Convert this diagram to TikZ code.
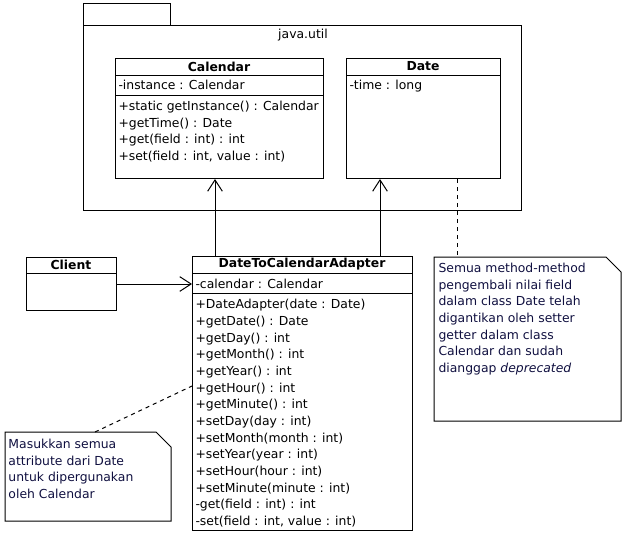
\documentclass[tikz,border=0pt]{standalone}
\usepackage{fontspec}
\setmainfont{DejaVu Sans}
\usetikzlibrary{arrows.meta}
\definecolor{notetext}{RGB}{16,16,64}
\tikzset{every picture/.style={line width=0.75pt}}

\begin{document}
\begin{tikzpicture}[x=0.75pt,y=0.75pt,yscale=-1,xscale=1,
    font=\fontsize{9.3}{12.5}\selectfont,
    classbox/.style={draw, anchor=north west, inner sep=0pt},
    classname/.style={font=\fontsize{9.3}{12.5}\selectfont\bfseries, inner sep=0pt},
    members/.style={anchor=north west, align=left, inner sep=0pt},
    notebox/.style={anchor=north west, inner sep=0pt},
    assoc/.style={-{Straight Barb[length=8.5pt,width=11pt]}},
    notelink/.style={dash pattern=on 3pt off 3pt}]
    \useasboundingbox (0,0) rectangle (628,539);

    %Package java.util
    \node [classbox, minimum width=65.25pt, minimum height=16.5pt] (utilTab) at (83,3) {};
    \node [classbox, minimum width=328.5pt, minimum height=138.75pt] (util) at (83,25) {};
    \node [inner sep=0pt] (utilName) at (303,35) {java.util};

    %Class Calendar
    \node [classbox, minimum width=156pt, minimum height=90pt] (calendar) at (115,58) {};
    \draw (calendar.north west) ++(0,17) -- ++(208,0);
    \draw (calendar.north west) ++(0,37) -- ++(208,0);
    \node [classname] (calendarName) at (219,66.5) {Calendar};
    \node [members] (calendarAttr) at (118,79.5) {-instance : Calendar};
    \node [members] (calendarOps) at (118,100.5) {+static getInstance() : Calendar\\+getTime() : Date\\+get(field : int) : int\\+set(field : int, value : int)};

    %Class Date
    \node [classbox, minimum width=115.5pt, minimum height=90pt] (date) at (346,58) {};
    \draw (date.north west) ++(0,17) -- ++(154,0);
    \node [classname] (dateName) at (423,66.5) {Date};
    \node [members] (dateAttr) at (349,79.5) {-time : long};

    %Class Client
    \node [classbox, minimum width=67.5pt, minimum height=39.75pt] (client) at (26,257) {};
    \draw (client.north west) ++(0,16) -- ++(90,0);
    \node [classname] (clientName) at (71,265) {Client};

    %Class DateToCalendarAdapter
    \node [classbox, minimum width=165pt, minimum height=205.5pt] (adapter) at (192,256) {};
    \draw (adapter.north west) ++(0,17) -- ++(220,0);
    \draw (adapter.north west) ++(0,37) -- ++(220,0);
    \node [classname] (adapterName) at (302,264.5) {DateToCalendarAdapter};
    \node [members] (adapterAttr) at (195,278.5) {-calendar : Calendar};
    \node [members] (adapterOps) at (195,299) {+DateAdapter(date : Date)\\+getDate() : Date\\+getDay() : int\\+getMonth() : int\\+getYear() : int\\+getHour() : int\\+getMinute() : int\\+setDay(day : int)\\+setMonth(month : int)\\+setYear(year : int)\\+setHour(hour : int)\\+setMinute(minute : int)\\-get(field : int) : int\\-set(field : int, value : int)};

    %Note on Date
    \node [notebox, minimum width=139.5pt, minimum height=122.25pt] (dateNote) at (434,257) {};
    \draw (dateNote.north west) -- ([xshift=-11.25pt]dateNote.north east) -- ([yshift=11.25pt]dateNote.north east) -- (dateNote.south east) -- (dateNote.south west) -- cycle;
    \node [members, text=notetext] (dateNoteText) at (438,262.5) {Semua method-method\\pengembali nilai field\\dalam class Date telah\\digantikan oleh setter\\getter dalam class\\Calendar dan sudah\\dianggap \textit{deprecated}};

    %Note on adapter
    \node [notebox, minimum width=123.75pt, minimum height=66pt] (attrNote) at (5,432) {};
    \draw (attrNote.north west) -- ([xshift=-11.25pt]attrNote.north east) -- ([yshift=11.25pt]attrNote.north east) -- (attrNote.south east) -- (attrNote.south west) -- cycle;
    \node [members, text=notetext] (attrNoteText) at (8,438.5) {Masukkan semua\\attribute dari Date\\untuk dipergunakan\\oleh Calendar};

    %Connectors
    \path (calendar.south west) ++(100,0) coordinate (calendarIn);
    \path (date.south west) ++(34,0) coordinate (dateIn);
    \path (date.south west) ++(111,0) coordinate (dateLink);
    \path (attrNote.north west) ++(90,0) coordinate (attrLink);
    \path (adapter.north west) ++(0,130) coordinate (adapterLink);
    \draw [assoc] (adapter.north -| calendarIn) -- (calendarIn);
    \draw [assoc] (adapter.north -| dateIn) -- (dateIn);
    \draw [assoc] (client.east) -- (client.east -| adapter.west);
    \draw [notelink] (dateLink) -- (dateNote.north -| dateLink);
    \draw [notelink] (attrLink) -- (adapterLink);

\end{tikzpicture}
\end{document}
